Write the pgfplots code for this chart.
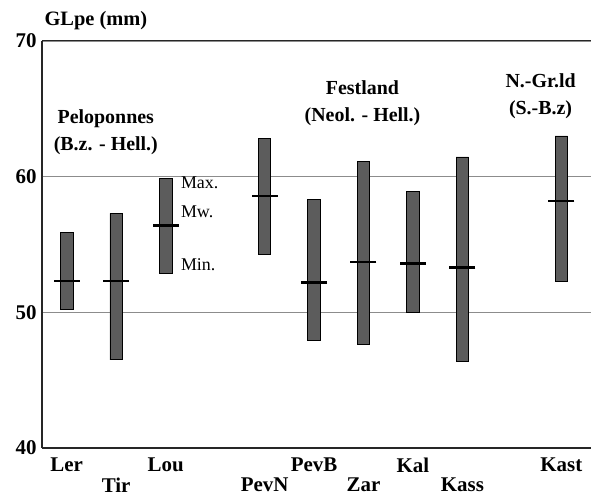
\documentclass[border=0pt]{standalone}
\usepackage{fontspec}
\setmainfont{Liberation Serif}
\usepackage{pgfplots}
\usepackage{pgfplotstable}
\pgfplotsset{compat=1.18}
\pgfplotstableread{
x min max mean
1 50.2 55.9 52.3
2 46.5 57.3 52.3
3 52.9 59.85 56.4
5 54.3 62.8 58.6
6 47.9 58.35 52.2
7 47.6 61.1 53.7
8 50.0 58.9 53.6
9 46.4 61.45 53.3
11 52.3 63.0 58.2
}\datatable
\begin{document}
\begin{tikzpicture}
\pgfplotsset{common/.style={at={(0,0)}, anchor=south west,
  scale only axis, width=549bp, height=407bp,
  xmin=0.5, xmax=11.6, ymin=40, ymax=70, clip=false}}
\begin{axis}[common, name=ax,
  axis x line*=bottom, axis y line*=left,
  axis line style={line width=1.2bp, black!85},
  ytick={40,50,60,70},
  yticklabels={\textbf{40},\textbf{50},\textbf{60},\textbf{70}},
  ymajorgrids, grid style={black!45, line width=0.8bp},
  major tick length=0,
  xtick={1,3,6,8,11}, xticklabels={Ler,Lou,PevB,Kal,Kast},
  extra x ticks={2,5,7,9}, extra x tick labels={Tir,PevN,Zar,Kass},
  extra x tick style={grid=none, xticklabel style={yshift=-20bp}},
  ticklabel style={font=\fontsize{21}{24}\selectfont\bfseries},
  xticklabel style={yshift=-6bp},
  yticklabel style={xshift=-2bp},
  ybar stacked, bar width=12.5bp,
]
\addplot[draw=none, fill=none] table[x=x, y=min] {\datatable};
\addplot[draw=black, line width=0.8bp, fill=black!64] table[x=x, y expr=\thisrow{max}-\thisrow{min}] {\datatable};
\draw[black!85, line width=1bp] (rel axis cs:0,1) -- (rel axis cs:1,1);
\node[anchor=base west, font=\fontsize{20.5}{24}\selectfont\bfseries] at (rel axis cs:0,1) [yshift=15bp, xshift=-1bp] {GLpe (mm)};
\node[align=center, font=\fontsize{20}{27}\selectfont\bfseries] at (axis cs:1.79,63.3) {Peloponnes\\(B.z. - Hell.)};
\node[align=center, font=\fontsize{20}{27}\selectfont\bfseries] at (axis cs:6.98,65.39) {Festland\\(Neol. - Hell.)};
\node[align=center, font=\fontsize{20}{27}\selectfont\bfseries] at (axis cs:10.58,65.9) {N.-Gr.ld\\(S.-B.z)};
\node[anchor=west, font=\fontsize{18}{20}\selectfont] at (axis cs:3.24,59.53) {Max.};
\node[anchor=west, font=\fontsize{18}{20}\selectfont] at (axis cs:3.24,57.39) {Mw.};
\node[anchor=west, font=\fontsize{18}{20}\selectfont] at (axis cs:3.24,53.49) {Min.};
\end{axis}
\begin{axis}[common, hide axis]
\addplot[only marks, mark=-, mark size=13bp, mark options={line width=2.2bp, black}] table[x=x, y=mean] {\datatable};
\end{axis}
\pgfresetboundingbox
\path[use as bounding box] (ax.south west) ++(-42bp,-50bp) rectangle ++(592bp,498bp);
\end{tikzpicture}
\end{document}
